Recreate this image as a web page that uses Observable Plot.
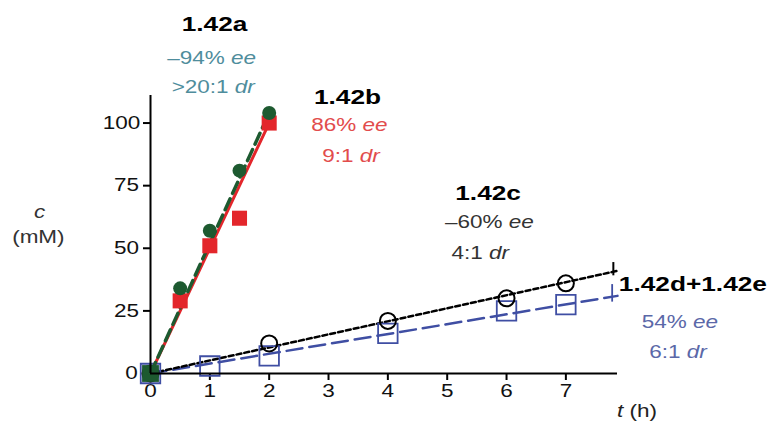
<!DOCTYPE html>
<html><head><meta charset="utf-8">
<script src="https://cdn.jsdelivr.net/npm/d3@7"></script>
<script src="https://cdn.jsdelivr.net/npm/@observablehq/plot@0.6"></script>
<style>
body{margin:0;background:#fff;}
</style></head><body><div id="chart"></div>
<script>
// measured data (t in h, c in mM)
const tA = [0, 0.5, 1, 1.5, 2];
const cA = [0, 34, 57, 81, 104];
const tB = [0, 0.5, 1, 1.5, 2];
const cB = [0, 29, 51, 62, 100];
const tC = [0, 2, 4, 6, 7];
const cC = [0, 12, 21, 30, 36];
const tD = [0, 1, 2, 4, 6, 7];
const cD = [0, 3, 7, 16, 25, 27.5];
// fitted lines
const fitAt = [0, 2],    fitAc = [0, 104];
const fitBt = [0, 2],    fitBc = [0, 100];
const fitCt = [0, 7.87], fitCc = [0, 41];
const fitDt = [0, 7.87], fitDc = [0, 31];
// partly visible markers cut at the right edge (t, c low, c high)
const edgeCt = [7.8], edgeClo = [39], edgeChi = [44.3];
const edgeDt = [7.78], edgeDlo = [28.5], edgeDhi = [35.5];
// tick labels
const xTicks = [0, 1, 2, 3, 4, 5, 6, 7];
const yTicks = [0, 25, 50, 75, 100];
// annotations
const titles = ["1.42a", "1.42b", "1.42c", "1.42d+1.42e"];
const titleT = [1.08, 3.32, 5.69, 9.14];
const titleC = [139.5, 110.3, 71.9, 35.5];
const eeText = ["\u201394% ee", "86% ee", "\u201360% ee", "54% ee"];
const eeT = [1.03, 3.35, 5.71, 8.92];
const eeC = [126, 99, 60.3, 20.3];
const drText = [">20:1 dr", "9:1 dr", "4:1 dr", "6:1 dr"];
const drT = [1.06, 3.38, 5.56, 8.89];
const drC = [114.5, 86.7, 47.9, 8.3];
const noteColors = ["#4f8d9c", "#e24c4c", "#333333", "#5b68a8"];

const pts = (t, c) => t.map((v, i) => ({t: v, c: c[i]}));
const idx = d3.range(titles.length);

const green = "#1d5a30", red = "#e3262b", blue = "#3f4ea3";
const ptsA = pts(tA, cA);

const chart = Plot.plot({
  width: 770, height: 425,
  marginLeft: 150, marginRight: 153, marginTop: 95, marginBottom: 52,
  style: {fontFamily: "'Liberation Sans', Arial, sans-serif", fontSize: "18px", background: "#fff", color: "#000"},
  x: {domain: [0, 7.87], axis: null},
  y: {domain: [0, 111], axis: null},
  marks: [
    Plot.axisX({ticks: xTicks, tickSize: 7, tickPadding: 4, fontSize: 18, strokeWidth: 2, label: null, tickFormat: d => String(d), fill: "#111"}),
    Plot.axisY({ticks: yTicks, tickSize: 7, tickPadding: 7, fontSize: 18, strokeWidth: 2, label: null, tickFormat: d => String(d), fill: "#111"}),
    Plot.line(pts(fitDt, fitDc), {x: "t", y: "c", stroke: blue, strokeWidth: 2.5, strokeDasharray: "16,7"}),
    Plot.line(pts(fitCt, fitCc), {x: "t", y: "c", stroke: "#000", strokeWidth: 2.5, strokeDasharray: "5,3"}),
    Plot.ruleX(d3.range(edgeCt.length), {x: i => edgeCt[i], y1: i => edgeClo[i], y2: i => edgeChi[i], stroke: "#000", strokeWidth: 2}),
    Plot.ruleX(d3.range(edgeDt.length), {x: i => edgeDt[i], y1: i => edgeDlo[i], y2: i => edgeDhi[i], stroke: blue, strokeWidth: 1.8}),
    Plot.dot(pts(tD, cD), {x: "t", y: "c", symbol: "square", r: 11, stroke: blue, strokeWidth: 1.8, fill: "none"}),
    Plot.dot(pts(tC, cC), {x: "t", y: "c", r: 8, stroke: "#000", strokeWidth: 2, fill: "none"}),
    Plot.line(pts(fitBt, fitBc), {x: "t", y: "c", stroke: red, strokeWidth: 3}),
    Plot.line(pts(fitAt, fitAc), {x: "t", y: "c", stroke: green, strokeWidth: 3.5, strokeDasharray: "12,6"}),
    Plot.dot(pts(tB, cB), {x: "t", y: "c", symbol: "square", r: 8.5, fill: red}),
    Plot.dot(ptsA.filter(d => d.t > 0), {x: "t", y: "c", r: 7, fill: green}),
    Plot.dot(ptsA.filter(d => d.t === 0), {x: "t", y: "c", symbol: "square", r: 9.5, fill: green}),
    Plot.ruleY([0], {stroke: "#000", strokeWidth: 2}),
    Plot.ruleX([0], {stroke: "#000", strokeWidth: 2}),
    Plot.text(idx, {x: i => titleT[i], y: i => titleC[i], text: i => titles[i], fontWeight: "bold", fontSize: 21, fill: "#000"}),
    Plot.text(idx, {x: i => eeT[i], y: i => eeC[i], text: i => eeText[i], fontSize: 18, fill: i => noteColors[i]}),
    Plot.text(idx, {x: i => drT[i], y: i => drC[i], text: i => drText[i], fontSize: 18, fill: i => noteColors[i]}),
    Plot.text(["c"], {x: -1.87, y: 64.3, text: d => d, fontStyle: "italic", fontSize: 18, fill: "#333"}),
    Plot.text(["(mM)"], {x: -1.89, y: 54.3, text: d => d, fontSize: 18, fill: "#333"}),
    Plot.text(["t (h)"], {x: 8.2, y: -14.9, text: d => d, fontSize: 18, fill: "#222"})
  ]
});
document.getElementById("chart").append(chart);

// italicise the variable symbols inside the annotation strings
const ns = "http://www.w3.org/2000/svg";
chart.querySelectorAll("text").forEach(el => {
  const s = el.textContent;
  let m = s.match(/^(.*\s)(ee|dr)$/);
  let parts = null;
  if (m) parts = [[m[1], false], [m[2], true]];
  else if (s === "t (h)") parts = [["t", true], [" (h)", false]];
  if (!parts) return;
  el.textContent = "";
  for (const [txt, it] of parts) {
    const sp = document.createElementNS(ns, "tspan");
    sp.textContent = txt;
    if (it) sp.setAttribute("font-style", "italic");
    el.appendChild(sp);
  }
  el.setAttribute("xml:space", "preserve");
});
// the reference's lettering is slightly wide: stretch each text about its centre
chart.querySelectorAll("text").forEach(el => {
  const b = el.getBBox();
  const cx = b.x + b.width / 2;
  const tr = el.getAttribute("transform") || "";
  el.setAttribute("transform", `${tr} translate(${cx},0) scale(1.25,1) translate(${-cx},0)`);
});
</script></body></html>
